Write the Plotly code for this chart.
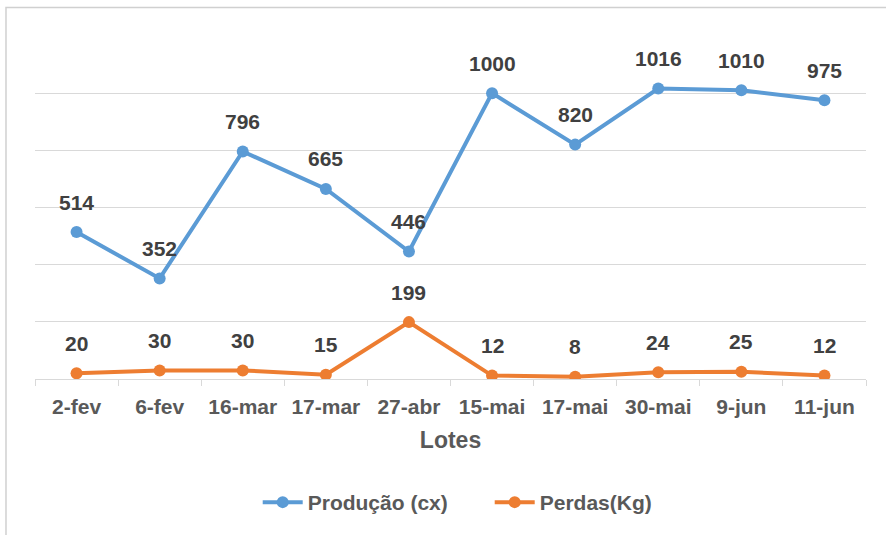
import plotly.graph_objects as go

categories = ["2-fev", "6-fev", "16-mar", "17-mar", "27-abr", "15-mai", "17-mai", "30-mai", "9-jun", "11-jun"]
producao = [514, 352, 796, 665, 446, 1000, 820, 1016, 1010, 975]
perdas = [20, 30, 30, 15, 199, 12, 8, 24, 25, 12]

BLUE = "#5B9BD5"
ORANGE = "#ED7D31"
FONT = "Liberation Sans, Arial, sans-serif"

fig = go.Figure()
fig.add_trace(go.Scatter(x=categories, y=producao, mode="lines+markers", name="<b>Produção (cx)</b>",
                         line=dict(color=BLUE, width=4), marker=dict(size=12, color=BLUE)))
fig.add_trace(go.Scatter(x=categories, y=perdas, mode="lines+markers", name="<b>Perdas(Kg)</b>",
                         line=dict(color=ORANGE, width=4), marker=dict(size=12, color=ORANGE)))

annotations = []
for series in (producao, perdas):
    for c, v in zip(categories, series):
        annotations.append(dict(x=c, y=v, text=f"<b>{v}</b>", showarrow=False, yshift=30,
                                font=dict(family=FONT, size=21, color="#404040")))

fig.update_layout(
    width=886, height=535,
    margin=dict(l=35, r=20, t=36, b=151),
    paper_bgcolor="white", plot_bgcolor="white",
    font=dict(family=FONT, color="#595959"),
    showlegend=True,
    legend=dict(orientation="h", x=0.268, xanchor="left", y=-0.36, yanchor="middle",
                font=dict(family=FONT, size=21, color="#595959"), itemwidth=40,
                entrywidth=177, tracegroupgap=0),
    annotations=annotations,
    shapes=[dict(type="rect", xref="paper", yref="paper", x0=-0.0349, x1=1.05, y0=-0.46, y1=1.083,
                 line=dict(color="#D0D0D0", width=1.5), layer="below")],
)
fig.update_xaxes(type="category", showgrid=False, showline=True, linecolor="#D9D9D9", linewidth=1,
                 ticks="outside", tickson="boundaries", ticklen=6, tickcolor="#D9D9D9",
                 ticklabelstandoff=9,
                 tickfont=dict(family=FONT, size=21, color="#595959"),
                 tickprefix="<b>", ticksuffix="</b>",
                 title=dict(text="<b>Lotes</b>", font=dict(family=FONT, size=23, color="#595959"), standoff=14),
                 range=[-0.5, 9.5])
fig.update_yaxes(range=[0, 1200], tickvals=[0, 200, 400, 600, 800, 1000], showticklabels=False,
                 showgrid=True, gridcolor="#D9D9D9", gridwidth=1, zeroline=False, showline=False)

fig.write_html("out.html", config={"displayModeBar": False},
               post_script="document.body.style.margin='0';document.body.style.overflow='hidden';")
